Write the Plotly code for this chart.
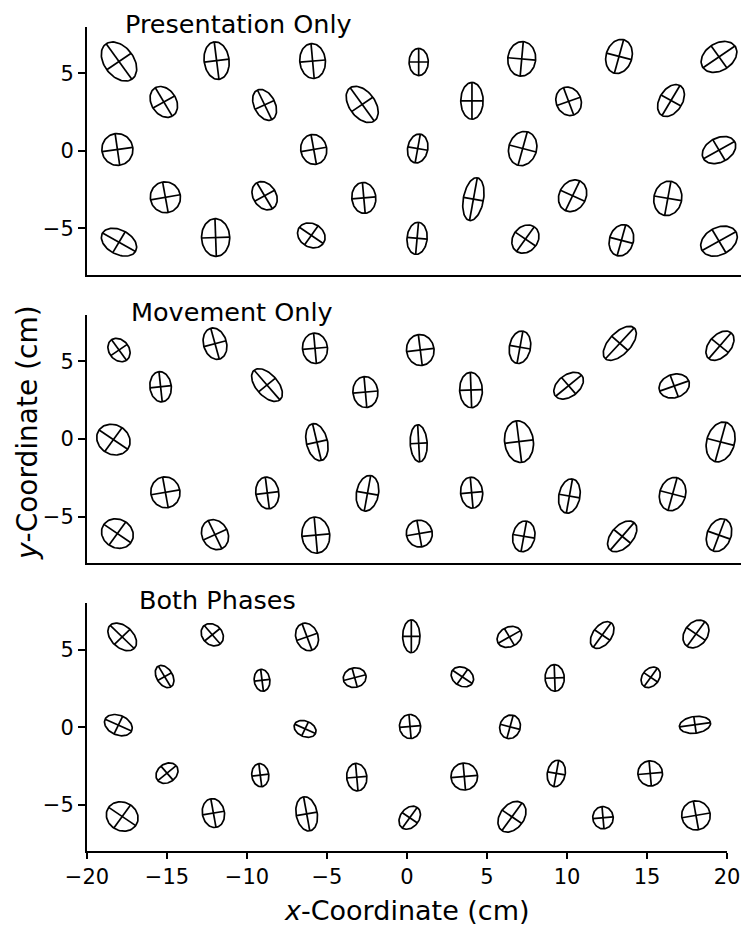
import numpy as np
import plotly.graph_objects as go

# ---------------- data (cm) ----------------
panel_titles = ["Presentation Only", "Movement Only", "Both Phases"]
x_ticks = [-20, -15, -10, -5, 0, 5, 10, 15, 20]
y_ticks = [-5, 0, 5]

# Presentation Only: centre, semi-major, semi-minor, orientation (deg)
pres_x = [-18.0, -11.9, -5.9, 0.73, 7.17, 13.25, 19.5,
          -15.2, -8.9, -2.8, 4.06, 10.1, 16.5,
          -18.1, -5.83, 0.67, 7.23, 19.5,
          -15.1, -8.9, -2.7, 4.15, 10.35, 16.3,
          -18.0, -11.96, -5.98, 0.63, 7.4, 13.4, 19.5]
pres_y = [5.77, 5.83, 5.8, 5.74, 5.94, 6.10, 6.07,
          3.16, 2.97, 3.0, 3.23, 3.2, 3.25,
          0.09, 0.09, 0.15, 0.15, 0.05,
          -3.0, -2.9, -3.04, -3.12, -2.9, -3.07,
          -5.9, -5.6, -5.46, -5.65, -5.7, -5.78, -5.83]
pres_major = [1.40, 1.22, 1.13, 0.875, 1.12, 1.12, 1.22,
              1.06, 1.06, 1.31, 1.19, 0.94, 1.12,
              1.03, 0.97, 0.94, 1.12, 1.12,
              1.0, 0.97, 1.0, 1.40, 1.06, 1.12,
              1.19, 1.22, 0.91, 1.04, 0.97, 1.03, 1.22]
pres_minor = [0.93, 0.78, 0.80, 0.60, 0.87, 0.81, 0.87,
              0.78, 0.66, 0.81, 0.70, 0.78, 0.72,
              0.97, 0.81, 0.63, 0.87, 0.78,
              0.94, 0.72, 0.75, 0.63, 0.84, 0.87,
              0.78, 0.88, 0.75, 0.63, 0.78, 0.75, 0.87]
pres_angle = [-55, 97, 95, 90, 85, 75, 35,
              -60, -65, -55, 90, 110, 60,
              98, 100, 80, 75, 30,
              100, -60, 95, 80, 65, 80,
              -30, 92, -35, 85, 55, 75, 30]

# Movement Only
move_x = [-18.0, -12.0, -5.75, 0.83, 7.06, 13.3, 19.56,
          -15.4, -8.75, -2.6, 4.0, 10.1, 16.7,
          -18.35, -5.63, 0.73, 7.0, 19.6,
          -15.1, -8.73, -2.47, 4.04, 10.15, 16.6,
          -18.1, -12.0, -5.7, 0.77, 7.3, 13.45, 19.5]
move_y = [5.74, 6.15, 5.85, 5.74, 5.92, 6.17, 6.02,
          3.37, 3.48, 3.03, 3.16, 3.44, 3.42,
          -0.04, -0.2, -0.28, -0.17, -0.19,
          -3.44, -3.48, -3.5, -3.46, -3.68, -3.55,
          -6.1, -6.17, -6.2, -6.1, -6.28, -6.28, -6.2]
move_major = [0.81, 1.03, 0.98, 1.0, 1.06, 1.34, 1.09,
              0.98, 1.25, 1.0, 1.14, 1.06, 0.97,
              1.09, 1.22, 1.2, 1.35, 1.31,
              1.0, 1.03, 1.16, 1.0, 1.12, 1.09,
              1.03, 1.0, 1.17, 0.87, 1.0, 1.16, 1.09]
move_minor = [0.63, 0.72, 0.78, 0.86, 0.66, 0.69, 0.69,
              0.67, 0.69, 0.78, 0.71, 0.69, 0.75,
              0.94, 0.66, 0.53, 0.90, 0.87,
              0.91, 0.72, 0.69, 0.69, 0.66, 0.81,
              0.91, 0.81, 0.87, 0.81, 0.69, 0.69, 0.75]
move_angle = [-55, 105, 95, 97, 80, 48, 50,
              96, -50, 95, 92, 40, 20,
              -35, 103, 93, 97, 75,
              100, 97, 80, 95, 80, 75,
              -35, -65, 95, 100, 80, 50, 70]

# Both Phases
both_x = [-17.8, -12.17, -6.25, 0.27, 6.4, 12.2, 18.06,
          -15.15, -9.06, -3.27, 3.46, 9.23, 15.23,
          -18.04, -6.37, 0.19, 6.44, 18.0,
          -15.0, -9.17, -3.14, 3.58, 9.33, 15.2,
          -17.8, -12.1, -6.27, 0.17, 6.56, 12.25, 18.06]
both_y = [5.83, 5.97, 5.83, 5.87, 5.83, 5.95, 6.02,
          3.27, 3.03, 3.2, 3.25, 3.18, 3.22,
          0.13, -0.11, 0.04, 0.02, 0.15,
          -2.97, -3.1, -3.23, -3.19, -2.99, -2.99,
          -5.77, -5.55, -5.6, -5.85, -5.79, -5.85, -5.7]
both_major = [1.06, 0.78, 0.91, 1.06, 0.81, 0.97, 0.97,
              0.78, 0.71, 0.72, 0.75, 0.86, 0.72,
              0.91, 0.72, 0.78, 0.77, 0.98,
              0.75, 0.75, 0.89, 0.87, 0.86, 0.81,
              1.03, 0.94, 1.12, 0.81, 1.09, 0.72, 0.94]
both_minor = [0.69, 0.63, 0.69, 0.54, 0.63, 0.59, 0.72,
              0.50, 0.49, 0.63, 0.59, 0.60, 0.53,
              0.63, 0.50, 0.66, 0.64, 0.54,
              0.59, 0.53, 0.63, 0.83, 0.56, 0.77,
              0.91, 0.69, 0.66, 0.59, 0.75, 0.64, 0.89]
both_angle = [-45, -50, 110, 90, 30, 55, 55,
              -60, 97, 15, -35, 92, 55,
              -25, -25, 95, 75, 8,
              40, 97, 95, 95, 80, 95,
              -35, 100, 100, 55, 55, 95, 100]

panels = [
    (pres_x, pres_y, pres_major, pres_minor, pres_angle),
    (move_x, move_y, move_major, move_minor, move_angle),
    (both_x, both_y, both_major, both_minor, both_angle),
]

# ---------------- figure ----------------
FONT = "DejaVu Sans"
W, H = 741, 932
ML, MR, MT, MB = 87, 0, 27, 81
plot_w = W - ML - MR          # 654 px
plot_h = H - MT - MB          # 824 px
px_per_cm = 16.0
x_full = -20 + plot_w / px_per_cm   # right end of panels 1-2 axis line

# y domains (top, middle, bottom)
y_domains = [[0.6994, 1.0], [0.3495, 0.6505], [0.0, 0.3006]]
axis_ids = ["3", "2", ""]   # panel 1 uses x3/y3, panel 2 x2/y2, panel 3 x/y

fig = go.Figure()
tt = np.linspace(0, 2 * np.pi, 81)

for (xs, ys, A, B, ANG), aid in zip(panels, axis_ids):
    ox, oy = [], []
    for cx, cy, a, b, ang in zip(xs, ys, A, B, ANG):
        th = np.deg2rad(ang)
        c, s = np.cos(th), np.sin(th)
        ex = cx + a * np.cos(tt) * c - b * np.sin(tt) * s
        ey = cy + a * np.cos(tt) * s + b * np.sin(tt) * c
        ox += list(ex) + [None]
        oy += list(ey) + [None]
        # major and minor axes
        ox += [cx - a * c, cx + a * c, None, cx + b * s, cx - b * s, None]
        oy += [cy - a * s, cy + a * s, None, cy - b * c, cy + b * c, None]
    fig.add_trace(go.Scatter(
        x=ox, y=oy, mode="lines",
        line=dict(color="black", width=1.7),
        hoverinfo="skip", showlegend=False,
        xaxis="x" + aid, yaxis="y" + aid,
    ))

common_axis = dict(showgrid=False, zeroline=False, showline=True,
                   linecolor="black", linewidth=2, mirror=False,
                   automargin=False,
                   tickfont=dict(family=FONT, size=21, color="black"))

layout = dict(
    width=W, height=H, autosize=False,
    margin=dict(l=ML, r=MR, t=MT, b=MB, pad=0, autoexpand=False),
    paper_bgcolor="white", plot_bgcolor="white",
    font=dict(family=FONT, color="black"),
    showlegend=False,
)

for i, aid in enumerate(axis_ids):
    xkey = "xaxis" + aid
    ykey = "yaxis" + aid
    if aid == "":
        layout[xkey] = dict(common_axis, domain=[0, 640 / plot_w], range=[-20, 20],
                            anchor="y", tickmode="array", tickvals=x_ticks,
                            ticks="outside", ticklen=6, tickwidth=2, tickcolor="black")
    else:
        layout[xkey] = dict(common_axis, domain=[0, 1], range=[-20, x_full],
                            anchor="y" + aid, showticklabels=False, ticks="")
    layout[ykey] = dict(common_axis, domain=y_domains[i], range=[-8, 8],
                        anchor="x" + aid, tickmode="array", tickvals=y_ticks,
                        ticks="outside", ticklen=7, tickwidth=2, tickcolor="black")

fig.update_layout(**layout)

# panel titles (paper coordinates)
title_left_px = [123, 129, 137]
title_mid_px = [24, 312, 600]
for name, lx, my in zip(panel_titles, title_left_px, title_mid_px):
    fig.add_annotation(text=name, x=(lx - ML) / plot_w, y=(H - MB - my) / plot_h,
                       xref="paper", yref="paper",
                       xanchor="left", yanchor="middle", showarrow=False,
                       font=dict(family=FONT, size=25.5, color="black"))

# axis titles
fig.add_annotation(text="<i>x</i>-Coordinate (cm)", xref="paper", yref="paper",
                   x=(407 - ML) / plot_w, y=(H - MB - 910) / plot_h,
                   xanchor="center", yanchor="middle", showarrow=False,
                   font=dict(family=FONT, size=27, color="black"))
fig.add_annotation(text="<i>y</i>-Coordinate (cm)", xref="paper", yref="paper",
                   x=(27 - ML) / plot_w, y=(H - MB - 433) / plot_h, textangle=-90,
                   xanchor="center", yanchor="middle", showarrow=False,
                   font=dict(family=FONT, size=28, color="black"))

post = (
    "document.documentElement.style.overflow='hidden';"
    "document.body.style.overflow='hidden';"
    "document.body.style.margin='0';"
    "document.body.style.padding='0';"
    "Plotly.relayout('{plot_id}', {width: 741, height: 932});"
)
fig.write_html("out.html",
               config={"responsive": False, "displayModeBar": False},
               post_script=post)
